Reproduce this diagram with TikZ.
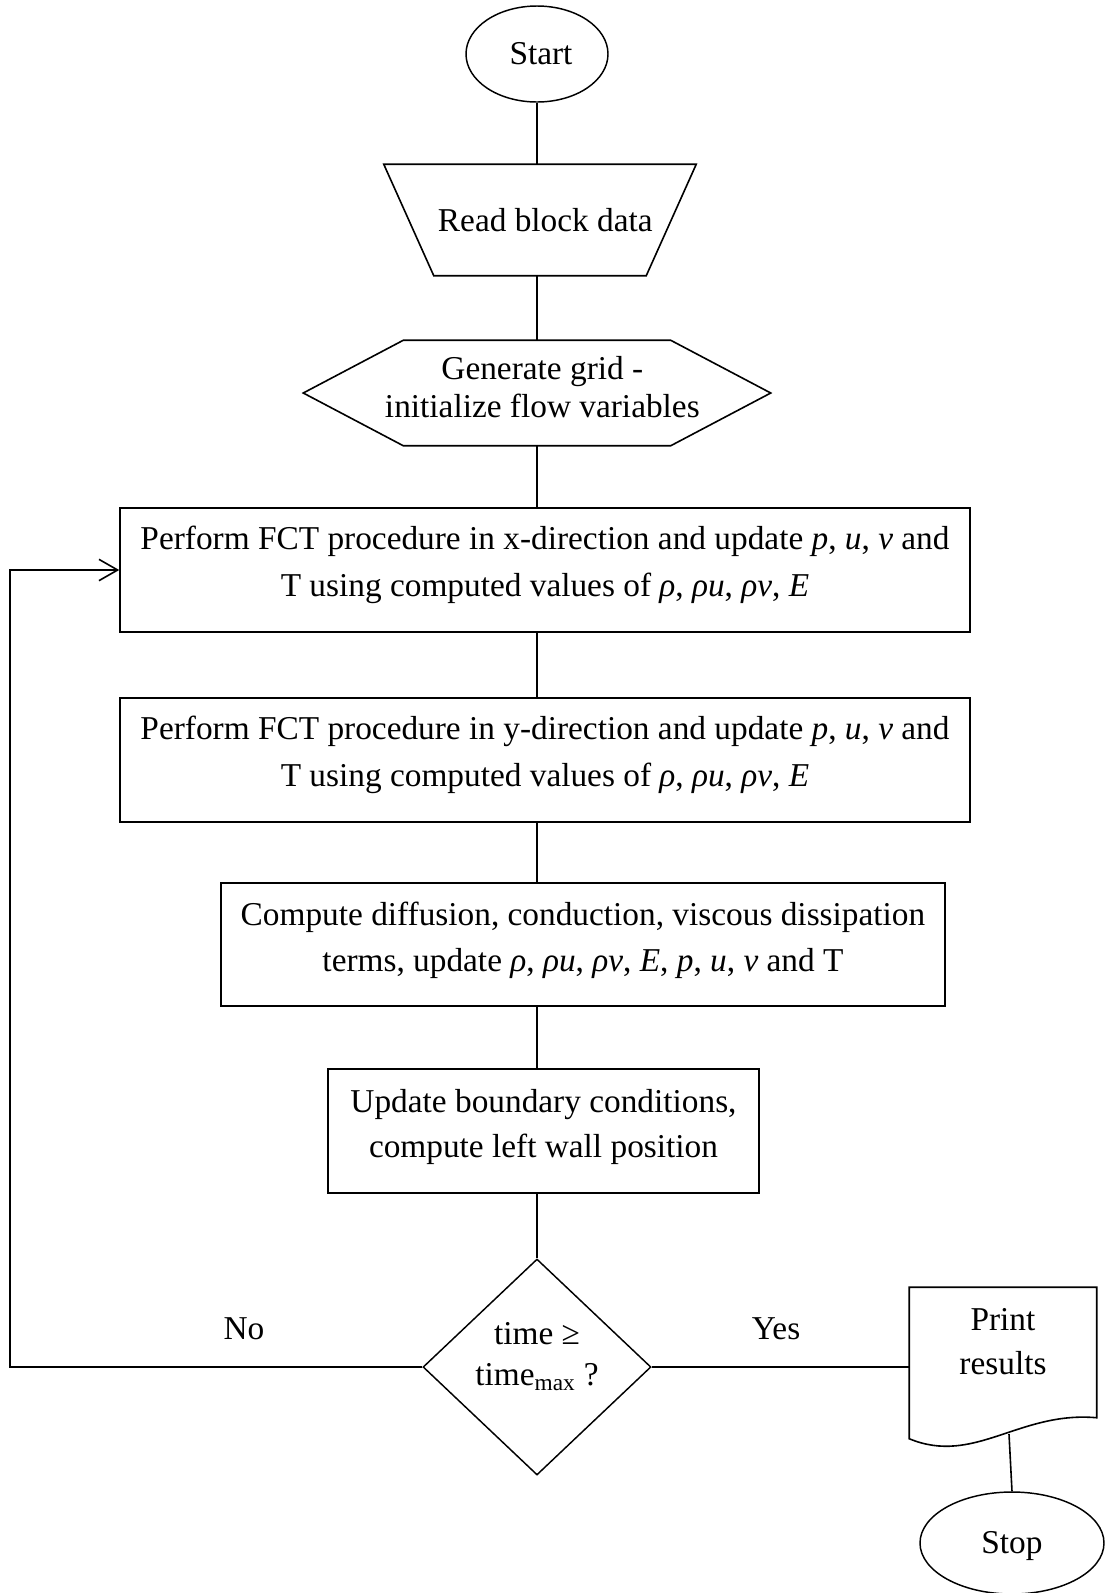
\documentclass[tikz,border=0pt]{standalone}
\usepackage{fontspec}
\setmainfont{Liberation Serif}
\usetikzlibrary{shapes.geometric,arrows.meta,calc}
\newcommand\pxu{0.75pt}
\newcommand\twoln[4]{\raisebox{#1}[\height][\depth]{\renewcommand\arraystretch{#2}\begin{tabular}{@{}c@{}}#3\\#4\end{tabular}}}
\newcommand\mi[1]{\textit{#1}}
\tikzset{
  base/.style={font=\fontsize{25pt}{34.9pt}\selectfont, inner sep=0pt, line width=1.1pt},
  procbox/.style={base, draw, rectangle},
  ghost/.style={base, rectangle, draw=none},
  term/.style={base, draw, ellipse},
  decide/.style={base, draw, diamond},
  conn/.style={line width=1.2pt},
  arr/.style={conn, -{Straight Barb[length=14pt,width=16pt,line width=1.2pt]}},
  lbl/.style={base}
}
\begin{document}
\begin{tikzpicture}[x=\pxu, y=-\pxu]
\useasboundingbox (0,0) rectangle (1106,1593);
% nodes
\node[term, minimum width={142*\pxu}, minimum height={96*\pxu}] (start) at (537,54) {\hspace*{6pt}Start};
\node[ghost, minimum width={311*\pxu}, minimum height={110*\pxu}] (read) at (540,220) {\hspace*{8pt}Read block data};
\node[ghost, minimum width={466*\pxu}, minimum height={104*\pxu}] (hex) at (537,393)
  {\hspace*{8pt}\twoln{1.5pt}{0.817}{Generate grid -}{initialize flow variables}};
\node[procbox, minimum width={850*\pxu}, minimum height={124*\pxu}] (box1) at (545,570)
  {\twoln{4.6pt}{1}{Perform FCT procedure in x-direction and update \mi{p}, \mi{u}, \mi{v} and}{T using computed values of \mi{ρ}, \mi{ρu}, \mi{ρv}, \mi{E}}};
\node[procbox, minimum width={850*\pxu}, minimum height={124*\pxu}] (box2) at (545,760)
  {\twoln{4.6pt}{1}{Perform FCT procedure in y-direction and update \mi{p}, \mi{u}, \mi{v} and}{T using computed values of \mi{ρ}, \mi{ρu}, \mi{ρv}, \mi{E}}};
\node[procbox, minimum width={724*\pxu}, minimum height={123*\pxu}] (box3) at (583,944.5)
  {\twoln{3.8pt}{0.97}{Compute diffusion, conduction, viscous dissipation}{terms, update \mi{ρ}, \mi{ρu}, \mi{ρv}, \mi{E}, \mi{p}, \mi{u}, \mi{v} and T}};
\node[procbox, minimum width={431*\pxu}, minimum height={124*\pxu}] (box4) at (543.5,1131)
  {\twoln{3.8pt}{0.97}{Update boundary conditions,}{compute left wall position}};
\node[decide, minimum width={228*\pxu}, minimum height={216*\pxu}] (dec) at (537,1367)
  {\twoln{7.6pt}{0.88}{time ≥}{time\textsubscript{max} ?}};
\node[ghost, minimum width={186*\pxu}, minimum height={150*\pxu}] (doc) at (1003,1363)
  {\twoln{14.4pt}{0.946}{Print}{results}};
\node[term, minimum width={184*\pxu}, minimum height={102*\pxu}] (stop) at (1012,1543) {\raisebox{-2.3pt}[\height][\depth]{Stop}};
\coordinate (docb) at (1009,1434);
\coordinate (lp) at (10,1367);
\node[lbl] (no) at (244,1329) {No};
\node[lbl] (yes) at (776,1329) {Yes};
% custom outlines
\draw[conn] (read.north west) -- (read.north east) -- ([xshift={-50*\pxu}]read.south east)
  -- ([xshift={50*\pxu}]read.south west) -- cycle;
\draw[conn] (hex.west) -- ([xshift={100*\pxu}]hex.north west) -- ([xshift={-100*\pxu}]hex.north east)
  -- (hex.east) -- ([xshift={-100*\pxu}]hex.south east) -- ([xshift={100*\pxu}]hex.south west) -- cycle;
\draw[conn] (doc.south west) -- (doc.north west) -- (doc.north east) -- ($(doc.south east)+(0,-21)$)
  .. controls ($(doc.south west)+(110,-28)$) and ($(doc.south west)+(65,27)$) .. (doc.south west) -- cycle;
% connectors
\draw[conn] (start.south) -- (start.south |- read.north);
\draw[conn] (start.south |- read.south) -- (hex.north);
\draw[conn] (hex.south) -- (hex.south |- box1.north);
\draw[conn] (hex.south |- box1.south) -- (hex.south |- box2.north);
\draw[conn] (hex.south |- box2.south) -- (hex.south |- box3.north);
\draw[conn] (hex.south |- box3.south) -- (hex.south |- box4.north);
\draw[conn] (hex.south |- box4.south) -- (dec.north);
\draw[arr] (dec.west) -- (lp) |- (box1.west);
\draw[conn] (dec.east) -- (dec.east -| doc.west);
\draw[conn] (docb) -- (stop.north);
\end{tikzpicture}
\end{document}
